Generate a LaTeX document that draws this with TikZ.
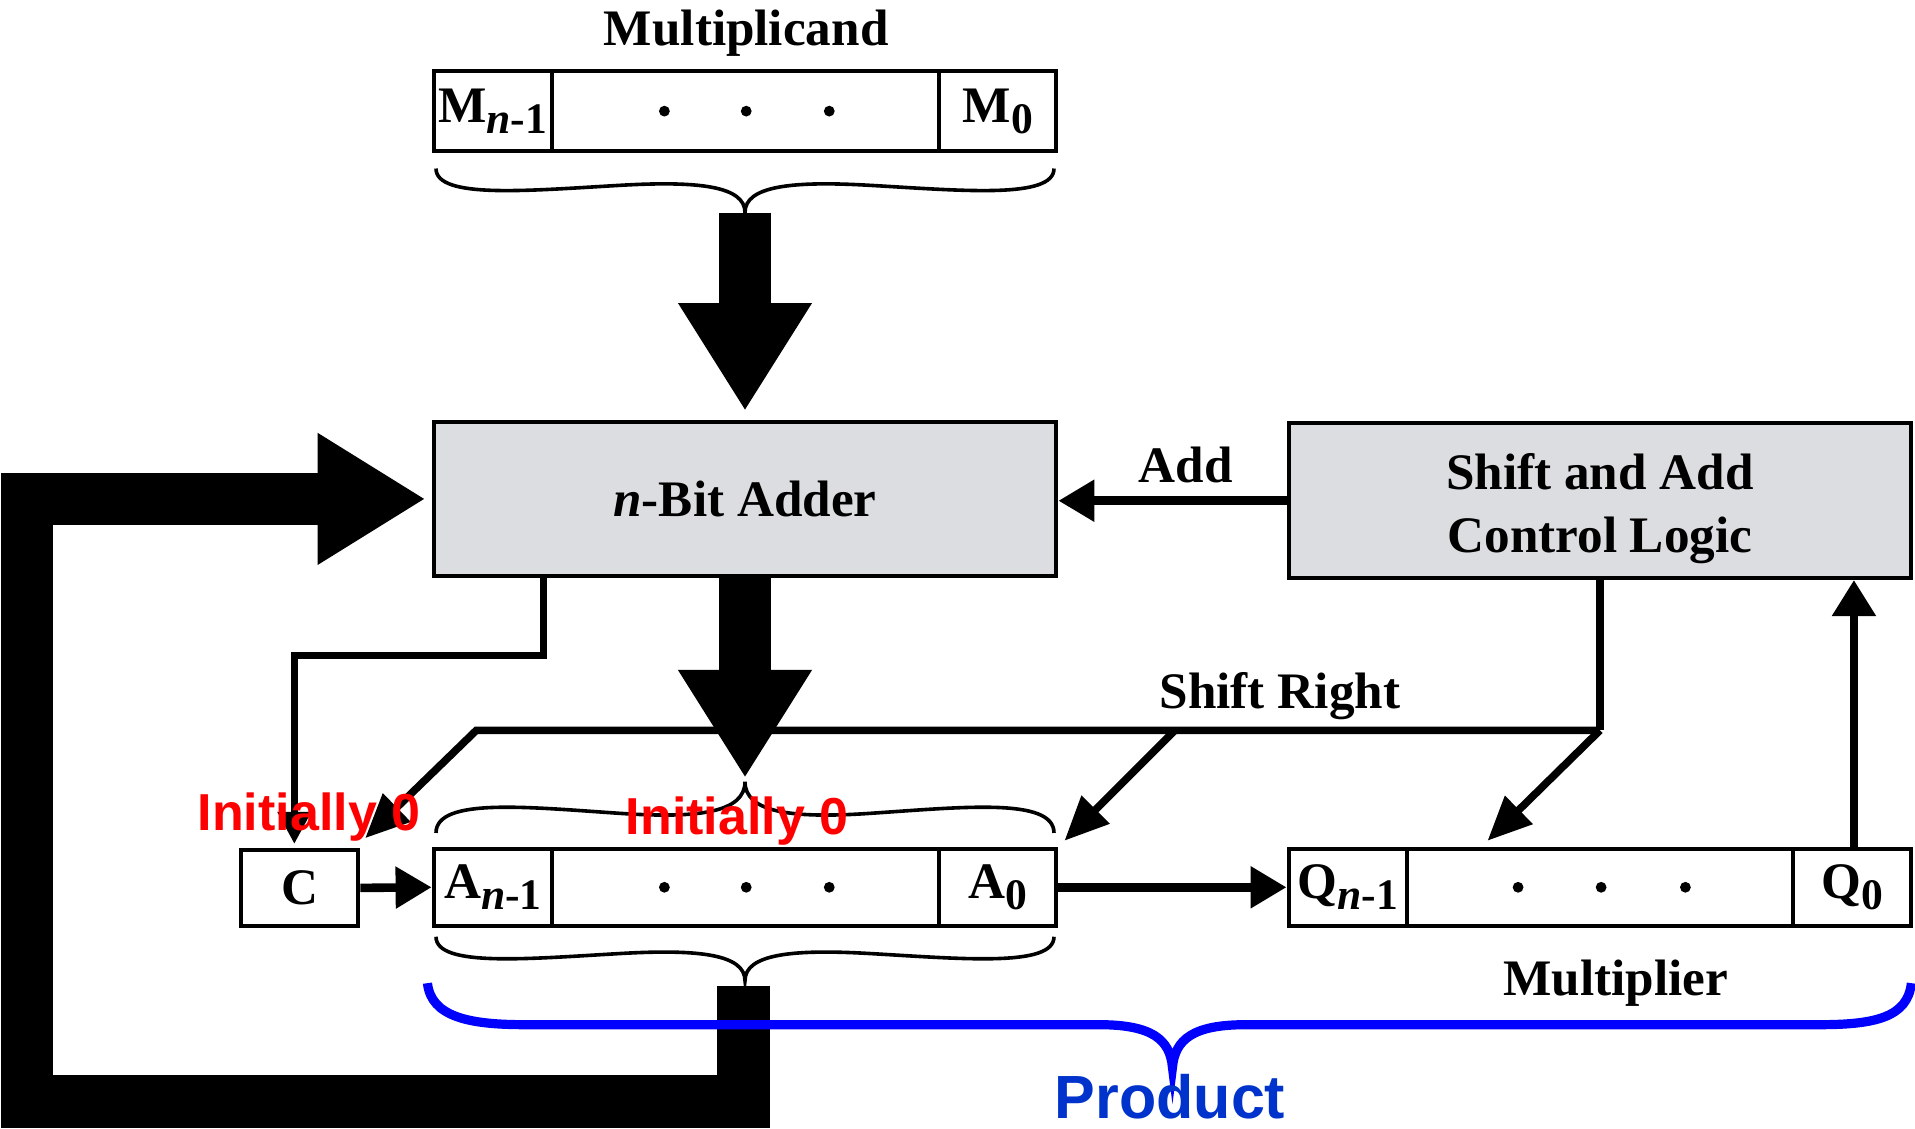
\documentclass[tikz,border=0pt]{standalone}
\usepackage{fontspec}
\setmainfont{Liberation Serif}
\newfontfamily\lsans{Liberation Sans}
\usetikzlibrary{arrows.meta,calc}
\definecolor{boxgray}{RGB}{220,221,224}
\definecolor{prodblue}{RGB}{0,51,204}
\definecolor{bracebl}{RGB}{0,0,255}
\definecolor{initred}{RGB}{255,0,0}
\newcommand\rsub[1]{\raisebox{-5.5pt}{\fontsize{21.8pt}{22pt}\selectfont #1}}
\newcommand\hbrace[5][]{%
 \pgfmathsetmacro\bxm{(#2+#3)/2}%
 \pgfmathsetmacro\bh{(#3-#2)/2}%
 \draw[#1] (#2,#4) .. controls (#2,{#4+0.7*(#5)}) and ({#2+0.3*\bh},{#4+0.5*(#5)}) .. ({#2+0.6*\bh},{#4+0.38*(#5)})
   .. controls ({\bxm-0.15*\bh},{#4+0.28*(#5)}) and (\bxm,{#4+0.4*(#5)}) .. (\bxm,{#4+#5})
   .. controls (\bxm,{#4+0.4*(#5)}) and ({\bxm+0.15*\bh},{#4+0.28*(#5)}) .. ({#3-0.6*\bh},{#4+0.38*(#5)})
   .. controls ({#3-0.3*\bh},{#4+0.5*(#5)}) and (#3,{#4+0.7*(#5)}) .. (#3,#4);
}
\begin{document}
\begin{tikzpicture}[x=0.61065pt, y=-0.61065pt,
  lbl/.style={font=\fontsize{25.6pt}{31.8pt}\selectfont\bfseries, inner sep=0pt},
  cell/.style={draw, line width=2pt, inner sep=0pt, fill=white, lbl},
  regA/.style={cell, minimum height=38.5pt},
  regM/.style={cell, minimum height=40.3pt},
  wnar/.style={minimum width=59.2pt},
  wwide/.style={minimum width=193.6pt},
  bigbox/.style={draw, line width=2pt, fill=boxgray, inner sep=0pt, minimum width=311.4pt, minimum height=77.3pt, lbl},
  brc/.style={line width=1.8pt},
  fat/.style={line width=25.6pt, -{Triangle[length=54pt,width=63pt]}},
  medarrow/.style={line width=4.3pt, -{Triangle[length=18pt,width=20pt]}},
  thinline/.style={line width=3.7pt},
  thinarrow/.style={line width=3.6pt, -{Triangle[length=16pt,width=16pt]}},
  diag/.style={line width=3.8pt, -{Triangle[length=22pt,width=19pt]}},
  redlbl/.style={font=\lsans\fontsize{26pt}{30pt}\selectfont\bfseries, text=initred, inner sep=0pt},
]
\useasboundingbox (0,0) rectangle (1568,924);
\clip (0,0) rectangle (1568,924);

% ---- Multiplicand register
\node[lbl, anchor=base] (tMcand) at (611,37) {Multiplicand};
\node[regM, wnar] (ML) at (403.5,91) {M\rsub{\textit{n}-1}};
\node[regM, wwide] (MM) at (610.5,91) {};
\node[regM, minimum width=58.6pt] (MR) at (817,91) {M\rsub{0}};
\foreach \dx in {-66.5,0.5,68.5} \fill ($(MM.center)+(\dx,0)$) circle (2.7pt);
\hbrace[brc]{357}{863}{138}{36}
\coordinate (mbrtip) at (610,174);

% ---- Adder and control
\node[bigbox] (adder) at (610,408.5) {\textit{n}-Bit Adder};
\node[bigbox] (control) at (1310,410) {};
\node[lbl, align=center] (tCtl) at (1310,416.5) {Shift and Add\\Control Logic};

\draw[fat] (mbrtip) -- ([yshift=4.3pt]adder.north);

% ---- A register, C, Q register
\node[cell, minimum width=58.5pt, minimum height=38pt] (C) at (245.5,727) {C};
\node[regA, wnar] (AL) at (403.5,726.5) {A\rsub{\textit{n}-1}};
\node[regA, wwide] (AM) at (610.5,726.5) {};
\node[regA, minimum width=58.6pt] (AR) at (817,726.5) {A\rsub{0}};
\foreach \dx in {-66.5,0.5,68.5} \fill ($(AM.center)+(\dx,0)$) circle (2.7pt);
\node[regA, wnar] (QL) at (1103.5,726.5) {Q\rsub{\textit{n}-1}};
\node[regA, minimum width=193pt] (QM) at (1310,726.5) {};
\node[regA, wnar] (QR) at (1516.5,726.5) {Q\rsub{0}};
\foreach \dx in {-67,1,70} \fill ($(QM.center)+(\dx,0)$) circle (2.7pt);
\hbrace[brc]{357}{863}{682}{-42}
\hbrace[brc]{357}{863}{767}{36}
\coordinate (abrtop) at (610,637);
\coordinate (abrbot) at (609,807);

\draw[fat] (adder.south) -- (abrtop);

% ---- connectors
\draw[medarrow] (control.west) -- (control.west -| adder.east);
\node[lbl, anchor=base] (tAdd) at (971,395) {Add};

\coordinate (ac1) at (445,537);
\coordinate (ac2) at (241,691);
\draw[thinarrow] (adder.south -| ac1) -- (ac1) -| (ac2);

\draw[medarrow] (C.east) -- (AL.west);
\draw[medarrow] (AR.east) -- (QL.west);
\coordinate (q0x) at (1518,0);
\draw[line width=4.2pt, -{Triangle[length=18pt,width=21pt]}] (QR.north -| q0x) -- (control.south -| q0x);

\coordinate (J) at (1310,598);
\coordinate (sr1) at (390,598);
\coordinate (sr2) at (962,598);
\draw[thinline] (control.south) -- (J);
\draw[diag] (J) -- ($(QM.north)+(-92,-5)$);
\draw[diag, line join=miter] (J) -- (sr1) -- ($(C.north east)+(4,-8)$);
\draw[diag] (sr2) -- ($(AR.north east)+(5,-5)$);
\node[lbl, anchor=base] (tSR) at (1048,580) {Shift Right};
\node[lbl, anchor=base] (tMier) at (1323,815) {Multiplier};

% ---- feedback path
\coordinate (fb1) at (22,902);
\draw[line width=26.3pt, -{Triangle[length=54pt,width=62pt]}] (abrbot) |- (fb1) |- ([xshift=-3pt]adder.west);

% ---- product brace
\draw[bracebl, line width=4.6pt] (350,805) .. controls (353,833) and (385,839) .. (430,839) -- (900,839)
  .. controls (943,839) and (958,851) .. (960,874)
  .. controls (962,851) and (977,839) .. (1020,839) -- (1490,839)
  .. controls (1535,839) and (1562,833) .. (1565,805);
\node[font=\lsans\fontsize{30.5pt}{34pt}\selectfont\bfseries, text=prodblue, inner sep=0pt, anchor=base] (prod) at (958,916) {Product};

% ---- red labels
\node[redlbl, anchor=base] (init1) at (253,680) {Initially 0};
\node[redlbl, anchor=base] (init2) at (603.5,683) {Initially 0};
\end{tikzpicture}
\end{document}
